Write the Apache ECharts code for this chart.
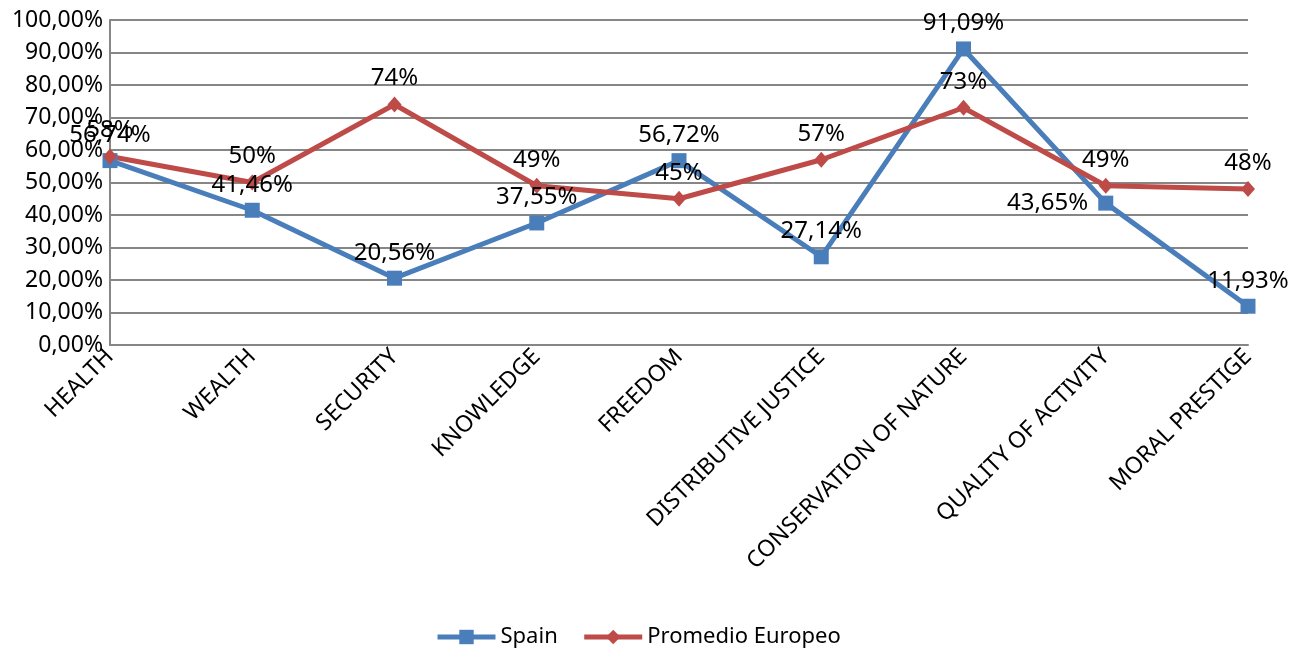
<!DOCTYPE html>
<html>
<head>
<meta charset="utf-8">
<script src="https://cdn.jsdelivr.net/npm/echarts@6/dist/echarts.min.js"></script>
<style>
  html, body { margin: 0; padding: 0; background: #fff; }
  #chart { width: 1304px; height: 659px; }
</style>
</head>
<body>
<div id="chart"></div>
<script>
const categories = ["HEALTH", "WEALTH", "SECURITY", "KNOWLEDGE", "FREEDOM",
  "DISTRIBUTIVE JUSTICE", "CONSERVATION OF NATURE", "QUALITY OF ACTIVITY", "MORAL PRESTIGE"];
const spain = [56.74, 41.46, 20.56, 37.55, 56.72, 27.14, 91.09, 43.65, 11.93];
const promedioEuropeo = [58, 50, 74, 49, 45, 57, 73, 49, 48];
const yTicks = [0, 10, 20, 30, 40, 50, 60, 70, 80, 90, 100];

const font = "Noto Sans";
const comma = (v, d) => v.toFixed(d).replace(".", ",") + "%";

// Excel put the 43,65% label on the left of its point
const spainData = spain.map((v, i) => i === 7
  ? { value: v, label: { position: "left", distance: 10 } }
  : v);

const chart = echarts.init(document.getElementById("chart"));
chart.setOption({
  animation: false,
  textStyle: { fontFamily: font },
  grid: { left: 110, right: 56, top: 20, bottom: 314 },
  legend: {
    bottom: 6,
    left: 430,
    itemWidth: 58,
    itemHeight: 18,
    itemGap: 24,
    lineStyle: { width: 5 },
    textStyle: { fontSize: 22, color: "#000", fontFamily: font },
    data: ["Spain", "Promedio Europeo"]
  },
  xAxis: {
    type: "category",
    data: categories,
    boundaryGap: false,
    axisLine: { lineStyle: { color: "#868686", width: 2 } },
    axisTick: { show: false },
    axisLabel: { rotate: 45, fontSize: 23, color: "#000", margin: 8, interval: 0, fontFamily: font }
  },
  yAxis: {
    type: "value",
    min: yTicks[0],
    max: yTicks[yTicks.length - 1],
    interval: 10,
    axisLine: { show: true, lineStyle: { color: "#868686", width: 2 } },
    axisTick: { show: false },
    splitLine: { lineStyle: { color: "#868686", width: 2 } },
    axisLabel: { fontSize: 23, color: "#000", margin: 7, fontFamily: font,
      formatter: (v) => comma(v, 2) }
  },
  series: [
    {
      name: "Spain",
      type: "line",
      data: spainData,
      symbol: "rect",
      symbolSize: 15,
      color: "#4A7EBB",
      lineStyle: { width: 5, color: "#4A7EBB" },
      label: { show: true, position: "top", distance: 6, fontSize: 24, color: "#000",
        fontFamily: font, formatter: (p) => comma(p.value, 2) }
    },
    {
      name: "Promedio Europeo",
      type: "line",
      data: promedioEuropeo,
      symbol: "diamond",
      symbolSize: [14, 16],
      color: "#BE4B48",
      lineStyle: { width: 5, color: "#BE4B48" },
      label: { show: true, position: "top", distance: 6, fontSize: 24, color: "#000",
        fontFamily: font, formatter: (p) => p.value + "%" }
    }
  ]
});
</script>
</body>
</html>
